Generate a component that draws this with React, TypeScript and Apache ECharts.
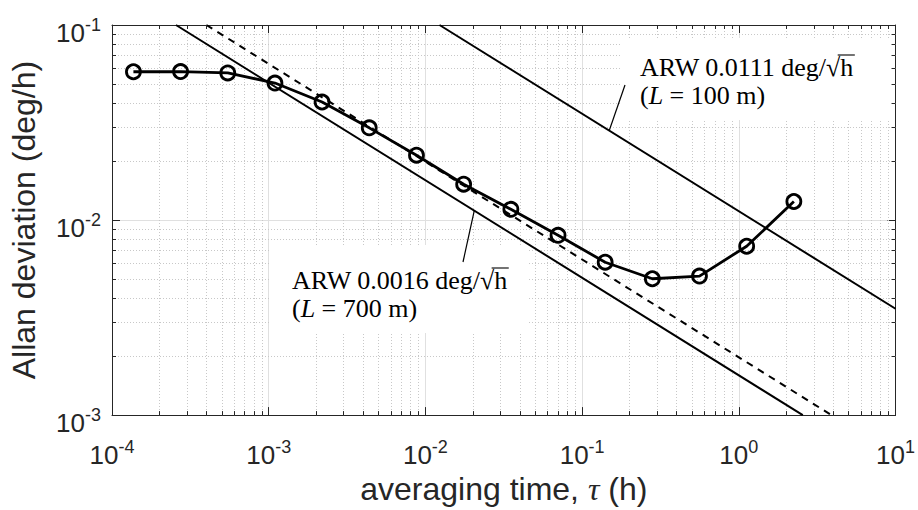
import React, { useEffect, useRef } from "react";
import * as echarts from "echarts";

// averaging time (h) and Allan deviation (deg/h)
const tauValues = [1.37e-4, 2.74e-4, 5.48e-4, 1.096e-3, 2.19e-3, 4.38e-3, 8.77e-3, 1.754e-2, 3.51e-2, 7.02e-2, 0.1403, 0.2806, 0.561, 1.122, 2.245];
const adevValues = [0.0576, 0.0577, 0.0568, 0.0504, 0.0403, 0.0297, 0.0215, 0.01527, 0.01135, 0.00835, 0.00608, 0.005, 0.00516, 0.00734, 0.01245];

// reference lines (endpoints)
const arwHighLine = [[0.0123, 0.1], [10, 0.00351]];
const arwLowLine = [[2.56e-4, 0.1], [2.56, 0.001]];
const fitLine = [[4.0e-4, 0.1], [3.9, 0.001]];

const xExtent = [1e-4, 10];
const yExtent = [1e-3, 1e-1];

const annotHigh = { line1: "ARW 0.0111 deg/", rad: "√h", line2: "100 m)", anchor: [0.149, 0.0288] };
const annotLow = { line1: "ARW 0.0016 deg/", rad: "√h", line2: "700 m)", anchor: [0.0205, 0.01117] };

const SANS = '"Liberation Sans", Arial, sans-serif';
const SERIF = '"Liberation Serif", "Times New Roman", serif';
const AX = "#262626";
const ANN_FS = 26;

function minorValues(lo: number, hi: number) {
  const out: number[] = [];
  for (let e = Math.round(Math.log10(lo)); e < Math.round(Math.log10(hi)); e++) {
    for (let k = 2; k <= 9; k++) out.push(k * Math.pow(10, e));
  }
  return out;
}

export default function App() {
  const ref = useRef<HTMLDivElement>(null);
  useEffect(() => {
    if (!ref.current) return;
    const chart = echarts.init(ref.current, null, { renderer: "svg" });
    const minorX = minorValues(xExtent[0], xExtent[1]).map((v) => [v, 0.01]);
    const minorY = minorValues(yExtent[0], yExtent[1]).map((v) => [0.01, v]);

    const labelFmt = (v: number) => `{b|10}{s|${Math.round(Math.log10(v))}}`;
    const labelRich = {
      b: { fontSize: 26, lineHeight: 34, fontFamily: SANS, color: AX },
      s: { fontSize: 18, lineHeight: 14, verticalAlign: "top", fontFamily: SANS, color: AX },
    };

    const baseX = {
      type: "log", logBase: 10, min: xExtent[0], max: xExtent[1],
      axisLine: { show: true, onZero: false, lineStyle: { color: AX, width: 1 } },
      axisTick: { show: true, inside: true, length: 8, lineStyle: { color: AX } },
      minorTick: { show: false },
    };
    const baseY = {
      type: "log", logBase: 10, min: yExtent[0], max: yExtent[1],
      axisLine: { show: true, onZero: false, lineStyle: { color: AX, width: 1 } },
      axisTick: { show: true, inside: true, length: 8, lineStyle: { color: AX } },
      minorTick: { show: false },
    };

    const gridSeries = (data: number[][], vertical: boolean, tick: boolean) => ({
      type: "custom",
      coordinateSystem: "cartesian2d",
      silent: true,
      z: tick ? 20 : 1,
      clip: false,
      data,
      renderItem: (params: any, api: any) => {
        const cs = params.coordSys;
        const p = api.coord([api.value(0), api.value(1)]);
        const children: any[] = [];
        if (vertical) {
          const x = Math.round(p[0]) + 0.5;
          if (!tick) {
            children.push({ type: "line", shape: { x1: x, y1: cs.y, x2: x, y2: cs.y + cs.height }, style: { stroke: "#c8c8c8", lineWidth: 1, lineDash: [1, 2] } });
          } else {
            children.push({ type: "line", shape: { x1: x, y1: cs.y + cs.height, x2: x, y2: cs.y + cs.height - 4 }, style: { stroke: AX, lineWidth: 1 } });
            children.push({ type: "line", shape: { x1: x, y1: cs.y, x2: x, y2: cs.y + 4 }, style: { stroke: AX, lineWidth: 1 } });
          }
        } else {
          const y = Math.round(p[1]) + 0.5;
          if (!tick) {
            children.push({ type: "line", shape: { x1: cs.x, y1: y, x2: cs.x + cs.width, y2: y }, style: { stroke: "#c8c8c8", lineWidth: 1, lineDash: [1, 2] } });
          } else {
            children.push({ type: "line", shape: { x1: cs.x, y1: y, x2: cs.x + 4, y2: y }, style: { stroke: AX, lineWidth: 1 } });
            children.push({ type: "line", shape: { x1: cs.x + cs.width, y1: y, x2: cs.x + cs.width - 4, y2: y }, style: { stroke: AX, lineWidth: 1 } });
          }
        }
        return { type: "group", children };
      },
    });

    chart.setOption({
      animation: false,
      backgroundColor: "#fff",
      grid: { left: 112, right: 21, top: 25, bottom: 93, containLabel: false },
      xAxis: [
        {
          ...baseX, position: "bottom",
          splitLine: { show: true, lineStyle: { color: "#e0e0e0", width: 1 } },
          axisLabel: { formatter: labelFmt, rich: labelRich, margin: 23 },
          name: "{n|averaging time, }{t|τ}{n| (h)}",
          nameLocation: "middle", nameGap: 52,
          nameTextStyle: {
            rich: {
              n: { fontSize: 32, fontFamily: SANS, color: AX },
              t: { fontSize: 32, fontFamily: SERIF, fontStyle: "italic", color: AX },
            },
          },
        },
        { ...baseX, position: "top", splitLine: { show: false }, axisLabel: { show: false } },
      ],
      yAxis: [
        {
          ...baseY, position: "left",
          splitLine: { show: true, lineStyle: { color: "#e0e0e0", width: 1 } },
          axisLabel: { formatter: labelFmt, rich: labelRich, margin: 11, padding: [16, 0, 0, 0] },
          name: "Allan deviation (deg/h)",
          nameLocation: "middle", nameGap: 72,
          nameTextStyle: { fontSize: 32, fontFamily: SANS, color: AX },
        },
        { ...baseY, position: "right", splitLine: { show: false }, axisLabel: { show: false } },
      ],
      series: [
        gridSeries(minorX, true, false),
        gridSeries(minorY, false, false),
        gridSeries(minorX, true, true),
        gridSeries(minorY, false, true),
        {
          type: "line", data: arwHighLine, showSymbol: false, symbol: "none", z: 10,
          lineStyle: { color: "#000", width: 2 },
        },
        {
          type: "line", data: arwLowLine, showSymbol: false, symbol: "none", z: 10,
          lineStyle: { color: "#000", width: 2 },
        },
        {
          type: "line", data: fitLine, showSymbol: false, symbol: "none", z: 10,
          lineStyle: { color: "#000", width: 2, type: [7, 6] },
        },
        {
          type: "line", data: tauValues.map((t, i) => [t, adevValues[i]]), z: 12,
          symbol: "circle", symbolSize: 14,
          lineStyle: { color: "#000", width: 2.8 },
          itemStyle: { color: "rgba(255,255,255,0)", borderColor: "#000", borderWidth: 2.8 },
        },
      ],
    });

    // annotations
    const ctx = document.createElement("canvas").getContext("2d")!;
    ctx.font = `${ANN_FS}px ${SERIF}`;
    const makeAnnot = (a: any, tx: number, ty: number, box: number[], leaderEnd: number[]) => {
      const p = chart.convertToPixel({ xAxisIndex: 0, yAxisIndex: 0 }, a.anchor) as number[];
      const w1 = ctx.measureText(a.line1).width;
      const wr = ctx.measureText("√").width;
      const wh = ctx.measureText("h").width;
      const ox = tx + w1 + wr * 0.78;
      return [
        { type: "rect", z: 5, silent: true, shape: { x: box[0], y: box[1], width: box[2], height: box[3] }, style: { fill: "#fff" } },
        { type: "line", z: 15, silent: true, shape: { x1: p[0], y1: p[1], x2: leaderEnd[0], y2: leaderEnd[1] }, style: { stroke: "#000", lineWidth: 1.2 } },
        {
          type: "text", z: 15, silent: true, x: tx, y: ty,
          style: {
            text: `{n|${a.line1}${a.rad}}\n{n|(}{i|L}{n| = ${a.line2}}`,
            rich: {
              n: { fontSize: ANN_FS, fontFamily: SERIF, fill: "#000", lineHeight: 28 },
              i: { fontSize: ANN_FS, fontFamily: SERIF, fontStyle: "italic", fill: "#000", lineHeight: 28 },
            },
            verticalAlign: "top",
          },
        },
        { type: "line", z: 15, silent: true, shape: { x1: ox, y1: ty + 2, x2: tx + w1 + wr + wh + 1, y2: ty + 2 }, style: { stroke: "#000", lineWidth: 1.1 } },
      ];
    };
    chart.setOption({
      graphic: [
        ...makeAnnot(annotHigh, 640, 53, [620, 38, 274, 82], [625, 85]),
        ...makeAnnot(annotLow, 292, 266, [270, 245, 257, 88], [463, 262]),
      ],
    });

    return () => chart.dispose();
  }, []);
  return <div ref={ref} style={{ position: "absolute", left: 0, top: 0, width: 918, height: 510 }} />;
}
